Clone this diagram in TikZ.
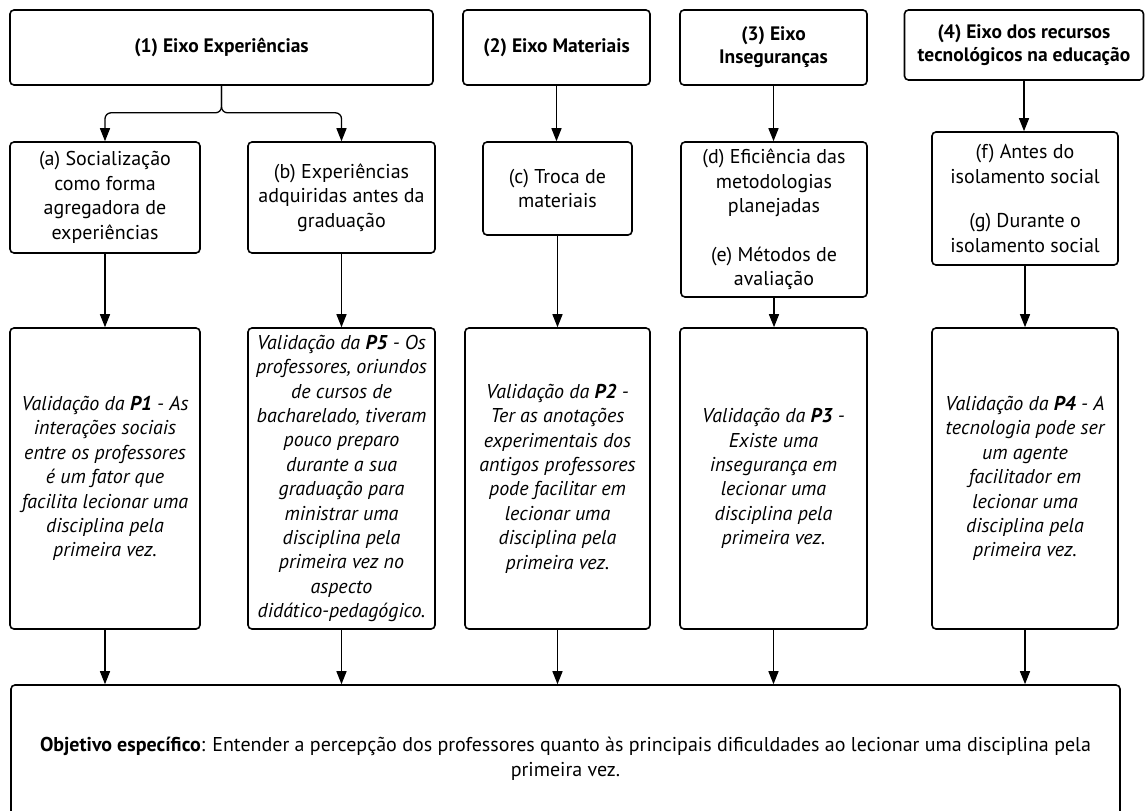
\documentclass[tikz,border=0pt]{standalone}
\usepackage{fontspec}
\setmainfont{PT Sans}
\usetikzlibrary{arrows.meta}

\begin{document}
\begin{tikzpicture}[x=1pt,y=1pt,
  box/.style={draw=black,line width=1.6pt,rounded corners=4pt,fill=white,align=center,inner sep=0pt,font=\fontsize{20}{24.5}\selectfont},
  axisbox/.style={box,font=\fontsize{19.5}{23}\selectfont\bfseries},
  hypbox/.style={box,font=\fontsize{20}{24.4}\selectfont\itshape},
  link/.style={line width=1.3pt,-{Triangle[length=13pt,width=10pt]}}]
\useasboundingbox (0,0) rectangle (1146,-811);
\fill [white] (0,0) rectangle (1146,-811);
\clip (0,0) rectangle (1146,-811);
\node [axisbox,minimum width=423,minimum height=75] (h1) at (221.5,-47.5) {(1) Eixo Experiências};
\node [axisbox,minimum width=187,minimum height=75] (h2) at (556.5,-47.5) {(2) Eixo Materiais};
\node [axisbox,minimum width=187,minimum height=75] (h3) at (773.5,-47.5) {(3) Eixo\\Inseguranças};
\node [axisbox,minimum width=239,minimum height=70] (h4) at (1024,-45) {(4) Eixo dos recursos\\tecnológicos na educação};
\node [box,minimum width=190,minimum height=111] (a) at (105,-197.5) {(a) Socialização\\como forma\\agregadora de\\experiências};
\node [box,minimum width=187,minimum height=111] (b) at (341.5,-197.5) {(b) Experiências\\adquiridas antes da\\graduação};
\node [box,minimum width=149,minimum height=93] (c) at (557.5,-188.5) {(c) Troca de\\materiais};
\node [box,minimum width=186,minimum height=155] (de) at (774,-219.5) {(d) Eficiência das\\metodologias\\planejadas\\[24pt](e) Métodos de\\avaliação};
\node [box,minimum width=186,minimum height=133] (fg) at (1025,-198.5) {(f) Antes do\\isolamento social\\[20pt](g) Durante o\\isolamento social};
\node [hypbox,minimum width=190,minimum height=301] (p1) at (105,-478.5) {Validação da \textbf{P1} - As\\interações sociais\\entre os professores\\é um fator que\\facilita lecionar uma\\disciplina pela\\primeira vez.};
\node [hypbox,minimum width=187,minimum height=301] (p5) at (341.5,-478.5) {Validação da \textbf{P5} - Os\\professores, oriundos\\de cursos de\\bacharelado, tiveram\\pouco preparo\\durante a sua\\graduação para\\ministrar uma\\disciplina pela\\primeira vez no\\aspecto\\didático-pedagógico.};
\node [hypbox,minimum width=185,minimum height=301] (p2) at (557.5,-478.5) {Validação da \textbf{P2} -\\Ter as anotações\\experimentais dos\\antigos professores\\pode facilitar em\\lecionar uma\\disciplina pela\\primeira vez.};
\node [hypbox,minimum width=187,minimum height=301] (p3) at (773.5,-478.5) {Validação da \textbf{P3} -\\Existe uma\\insegurança em\\lecionar uma\\disciplina pela\\primeira vez.};
\node [hypbox,minimum width=186,minimum height=301] (p4) at (1025,-478.5) {Validação da \textbf{P4} - A\\tecnologia pode ser\\um agente\\facilitador em\\lecionar uma\\disciplina pela\\primeira vez.};
\node [box,minimum width=1109,minimum height=148] (obj) at (565.5,-759) {\textbf{Objetivo específico}: Entender a percepção dos professores quanto às principais dificuldades ao lecionar uma disciplina pela\\primeira vez.};
\draw [link,rounded corners=6pt] (h1.south) -- ++(0,-27) -| (a.north);
\draw [link,rounded corners=6pt] (h1.south) -- ++(0,-27) -| (b.north);
\draw [link] (h2.south) -- (h2.south |- c.north);
\draw [link] (h3.south) -- (h3.south |- de.north);
\draw [link] (h4.south) -- (h4.south |- fg.north);
\draw [link] (a.south) -- (p1.north);
\draw [link] (b.south) -- (p5.north);
\draw [link] (c.south) -- (p2.north);
\draw [link] (de.south) -- (de.south |- p3.north);
\draw [link] (fg.south) -- (p4.north);
\draw [link] (p1.south) -- (p1.south |- obj.north);
\draw [link] (p5.south) -- (p5.south |- obj.north);
\draw [link] (p2.south) -- (p2.south |- obj.north);
\draw [link] (p3.south) -- (p3.south |- obj.north);
\draw [link] (p4.south) -- (p4.south |- obj.north);
\end{tikzpicture}
\end{document}
